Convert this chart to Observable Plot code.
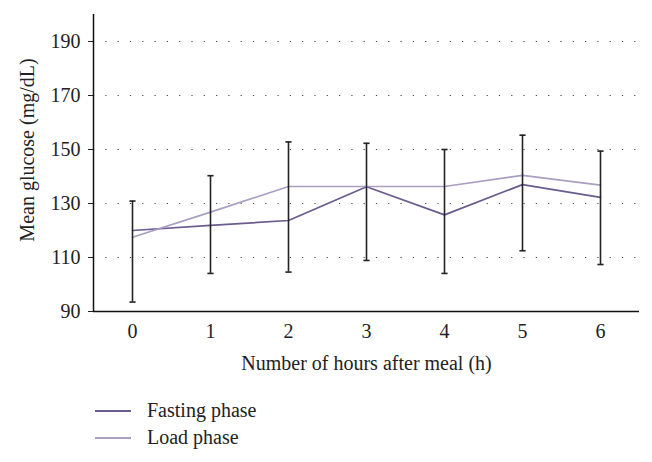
<!DOCTYPE html>
<html>
<head>
<meta charset="utf-8">
<script src="https://cdn.jsdelivr.net/npm/d3@7"></script>
<script src="https://cdn.jsdelivr.net/npm/@observablehq/plot@0.6"></script>
<style>
  body { margin: 0; background: #fff; }
  #chart { position: relative; width: 652px; height: 462px; font-family: "Liberation Serif", "DejaVu Serif", serif; }
  .legend { position: absolute; left: 95px; top: 397px; font-size: 20px; color: #222; }
  .legend .row { display: flex; align-items: center; height: 27px; }
  .legend .sw { width: 36px; height: 0; border-top: 2px solid; margin-right: 16px; }
</style>
</head>
<body>
<div id="chart"></div>
<script>
const hours = [0, 1, 2, 3, 4, 5, 6];
const fasting = [120.0, 121.9, 123.7, 136.2, 125.8, 137.0, 132.3];
const load = [117.5, 126.8, 136.3, 136.3, 136.3, 140.4, 136.8];
const errLow = [93.5, 104.1, 104.6, 108.9, 104.1, 112.5, 107.4];
const errHigh = [130.9, 140.3, 152.8, 152.3, 150.0, 155.3, 149.4];
const yTicks = [90, 110, 130, 150, 170, 190];
const seriesNames = ["Fasting phase", "Load phase"];
const seriesColors = ["#6b5b8f", "#aa9ec2"];
const xLabel = "Number of hours after meal (h)";
const yLabel = "Mean glucose (mg/dL)";

const rows = [];
hours.forEach((h, i) => {
  rows.push({hour: h, value: fasting[i], series: seriesNames[0]});
  rows.push({hour: h, value: load[i], series: seriesNames[1]});
});
const errs = hours.map((h, i) => ({hour: h, lo: errLow[i], hi: errHigh[i]}));

const capSymbol = {
  draw(ctx, size) {
    const w = Math.sqrt(size);
    ctx.moveTo(-w / 2, 0);
    ctx.lineTo(w / 2, 0);
  }
};

const plot = Plot.plot({
  width: 652,
  height: 390,
  marginTop: 14,
  marginLeft: 93,
  marginRight: 13,
  marginBottom: 79,
  style: {fontFamily: "'Liberation Serif', 'DejaVu Serif', serif", fontSize: "20px", color: "#222", background: "#fff"},
  x: {domain: [-0.5, 6.5]},
  y: {domain: [90, 200]},
  color: {domain: seriesNames, range: seriesColors},
  marks: [
    Plot.gridY(yTicks.slice(1), {stroke: "#444", strokeOpacity: 1, strokeWidth: 1.2, strokeDasharray: "1.2,11.1"}),
    Plot.axisY({ticks: yTicks, tickSize: 5, tickPadding: 8, label: null, fontSize: 20}),
    Plot.text([yLabel], {frameAnchor: "left", textAnchor: "middle", rotate: -90, dx: -66, dy: -13, fontSize: 20, fill: "#222"}),
    Plot.axisX({ticks: hours, tickSize: 0, tickPadding: 12, tickFormat: d => String(d), label: xLabel, labelAnchor: "center", labelArrow: "none", labelOffset: 58, fontSize: 20}),
    Plot.ruleX([-0.5], {y1: 200, y2: 90, stroke: "#111", strokeWidth: 1.5}),
    Plot.ruleY([90], {stroke: "#111", strokeWidth: 1.5}),
    Plot.line(rows, {x: "hour", y: "value", stroke: "series", strokeWidth: 1.7}),
    Plot.ruleX(errs, {x: "hour", y1: "lo", y2: "hi", stroke: "#222", strokeWidth: 1.6}),
    Plot.dot(errs, {x: "hour", y: "lo", symbol: capSymbol, r: 3.5, stroke: "#222", strokeWidth: 1.6, fill: "none"}),
    Plot.dot(errs, {x: "hour", y: "hi", symbol: capSymbol, r: 3.5, stroke: "#222", strokeWidth: 1.6, fill: "none"})
  ]
});

const chart = document.getElementById("chart");
chart.appendChild(plot);

const legend = document.createElement("div");
legend.className = "legend";
seriesNames.forEach((name, i) => {
  const row = document.createElement("div");
  row.className = "row";
  const sw = document.createElement("span");
  sw.className = "sw";
  sw.style.borderTopColor = seriesColors[i];
  const t = document.createElement("span");
  t.textContent = name;
  row.appendChild(sw);
  row.appendChild(t);
  legend.appendChild(row);
});
chart.appendChild(legend);
</script>
</body>
</html>
